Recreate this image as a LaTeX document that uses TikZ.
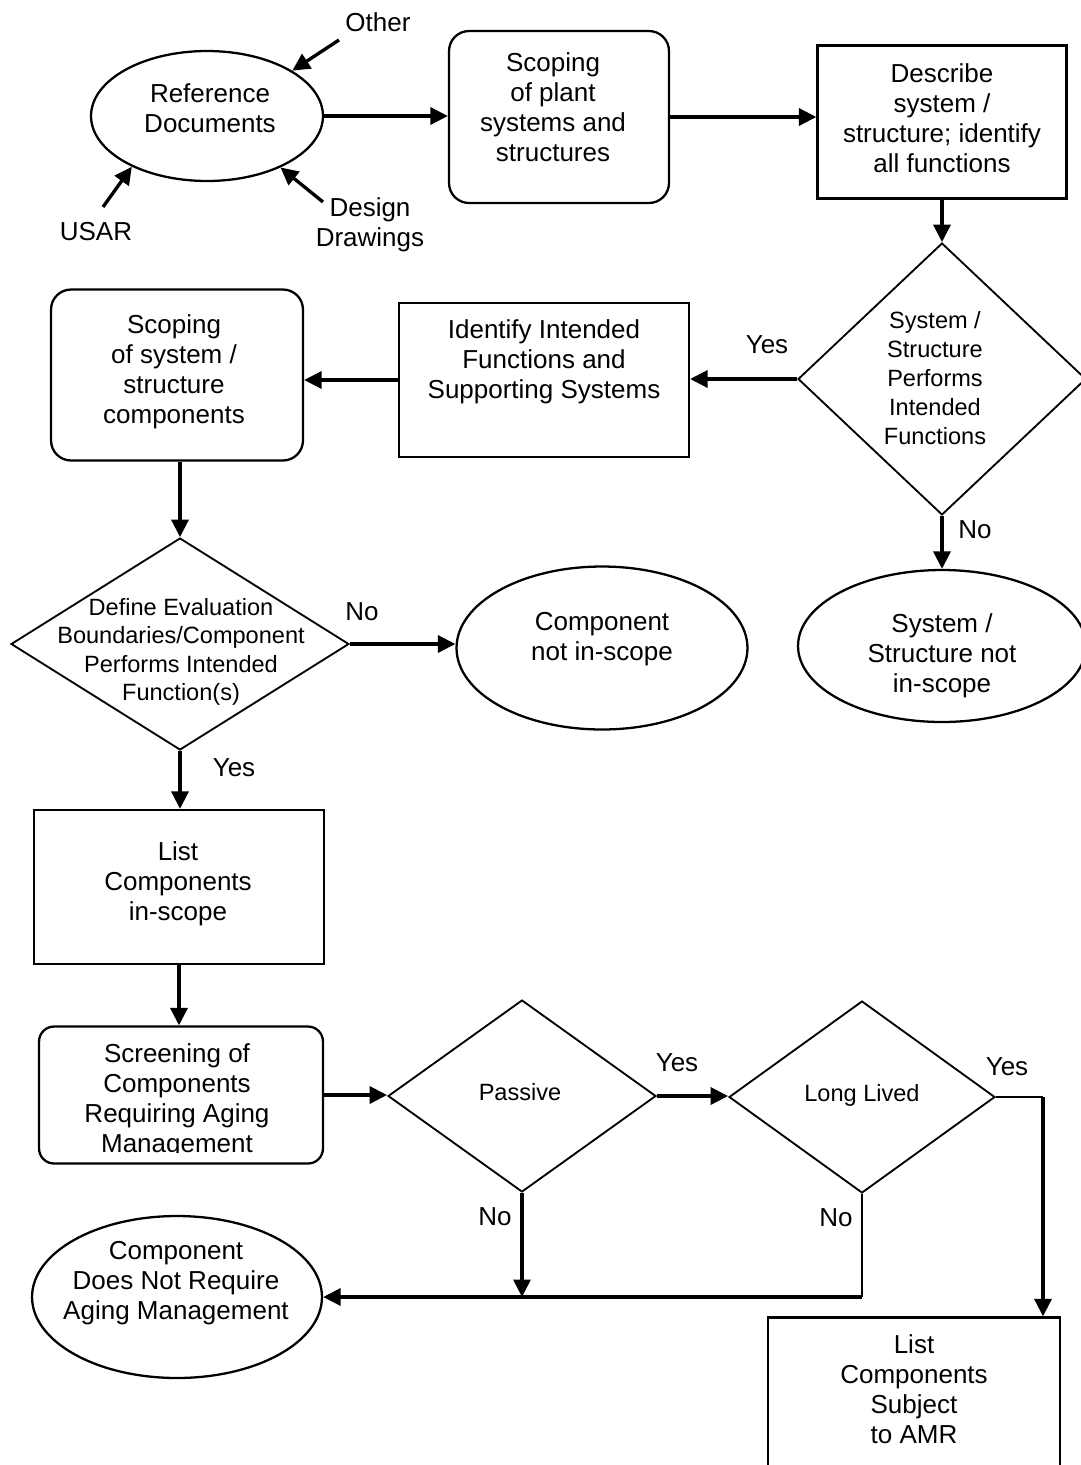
\documentclass[tikz,border=0pt]{standalone}
\usepackage{fontspec}
\setmainfont{Liberation Sans}
\usetikzlibrary{arrows.meta}
\usetikzlibrary{shapes.geometric}

\begin{document}
\begin{tikzpicture}[x=0.02cm, y=-0.02cm]

	\useasboundingbox (0,0) rectangle (1080,1465);

	\tikzstyle{every node}=[draw, line width=1.3pt, inner sep=0pt]
	\tikzstyle{oval}=[ellipse]
	\tikzstyle{rbox}=[rectangle, rounded corners=0.4cm]
	\tikzstyle{choice}=[diamond, line width=1.05pt]
	\tikzstyle{flow}=[line width=1.9pt, -{Triangle[length=0.35cm, width=0.34cm]}]
	\tikzstyle{thinline}=[line width=0.6pt]

	% shapes
	\node[oval, minimum width=4.64cm, minimum height=2.6cm] (refdoc) at (207,116) {};
	\node[rbox, minimum width=4.4cm, minimum height=3.44cm] (scopeplant) at (559,117) {};
	\node[minimum width=4.98cm, minimum height=3.06cm] (describe) at (942,122) {};
	\node[choice, minimum width=5.76cm, minimum height=5.44cm] (sysask) at (942,379) {};
	\node[oval, minimum width=5.76cm, minimum height=3.04cm] (sysout) at (942,646) {};
	\node[minimum width=5.8cm, minimum height=3.08cm] (identify) at (544,380) {};
	\node[rbox, minimum width=5.04cm, minimum height=3.42cm] (scopesys) at (177,375) {};
	\node[choice, minimum width=6.76cm, minimum height=4.24cm] (compask) at (180,644) {};
	\node[oval, minimum width=5.82cm, minimum height=3.26cm] (compout) at (602,648) {};
	\node[minimum width=5.8cm, minimum height=3.08cm] (listin) at (179,887) {};
	\node[rbox, rounded corners=0.3cm, minimum width=5.68cm, minimum height=2.74cm] (screen) at (181,1095) {};
	\node[choice, minimum width=5.36cm, minimum height=3.84cm] (passive) at (522,1096) {};
	\node[choice, minimum width=5.32cm, minimum height=3.84cm] (longlived) at (862,1097) {};
	\node[oval, minimum width=5.8cm, minimum height=3.24cm] (noamr) at (177,1297) {};
	\node[minimum width=5.84cm, minimum height=3.3cm] (listamr) at (914,1400) {};

	\tikzstyle{every node}=[align=center, inner sep=0pt, font=\fontsize{14.8}{17.1}\selectfont]
	\tikzstyle{asktext}=[font=\fontsize{13.4}{16.6}\selectfont]

	% texts
	\node (other) at (378,22) {Other};
	\node (usar) at (96,232) {USAR};
	\node (design) at (370,225) {Design\\Drawings};
	\node (refdoctxt) at (210,108) {Reference\\Documents};
	\node (scopeplanttxt) at (553,107) {Scoping\\of plant\\systems and\\structures};
	\node (describetxt) at (942,118) {Describe\\system /\\structure; identify\\all functions};
	\node[asktext] (sysasktxt) at (935,378) {System /\\Structure\\Performs\\Intended\\Functions};
	\node (identifytxt) at (544,362) {Identify Intended\\Functions and\\Supporting Systems};
	\node (scopesystxt) at (174,372) {Scoping\\of system /\\structure\\components};
	\node (sysouttxt) at (942,656) {System /\\Structure not\\in-scope};
	\node[asktext, font=\fontsize{13.4}{16.1}\selectfont] (compasktxt) at (181,652) {Define Evaluation\\Boundaries/Component\\Performs Intended\\Function(s)};
	\node (compouttxt) at (602,639) {Component\\not in-scope};
	\node (listintxt) at (178,884) {List\\Components\\in-scope};
	\begin{scope}
		\clip (0,1000) rectangle (400,1152);
		\node (screentxt) at (177,1101) {Screening of\\Components\\Requiring Aging\\Management};
	\end{scope}
	\node[asktext] (passivetxt) at (520,1092) {Passive};
	\node[asktext] (longlivedtxt) at (862,1095) {Long Lived};
	\node (noamrtxt) at (176,1283) {Component\\Does Not Require\\Aging Management};
	\node (listamrtxt) at (914,1389) {List\\Components\\Subject\\to AMR};

	% answers
	\node (yes1) at (767,345) {Yes};
	\node (no1) at (975,530) {No};
	\node (no2) at (362,612) {No};
	\node (yes2) at (234,768) {Yes};
	\node (yes3) at (677,1063) {Yes};
	\node (yes4) at (1007,1067) {Yes};
	\node (no3) at (495,1217) {No};
	\node (no4) at (836,1218) {No};

	% inputs
	\coordinate (othertail) at (339,40);
	\coordinate (usartail) at (103,207);
	\coordinate (designtail) at (323,202);
	\draw[flow] (othertail) -- (refdoc.28);
	\draw[flow] (usartail) -- (refdoc.214);
	\draw[flow] (designtail) -- (refdoc.325);

	% flow
	\draw[flow] (refdoc.east) -- (refdoc.east -| scopeplant.west);
	\draw[flow] (scopeplant.east) -- (scopeplant.east -| describe.west);
	\draw[flow] (describe.south) -- (sysask.north);
	\draw[flow] (sysask.west) -- (sysask.west -| identify.east);
	\draw[flow] (identify.west) -- (identify.west -| scopesys.east);
	\draw[flow] (sysask.south) -- (sysout.north);
	\draw[flow] (compask.north |- scopesys.south) -- (compask.north);
	\draw[flow] (compask.east) -- (compask.east -| compout.west);
	\draw[flow] (compask.south) -- (compask.south |- listin.north);
	\draw[flow] (listin.south) -- (listin.south |- screen.north);
	\draw[flow] (screen.east) -- (screen.east -| passive.west);
	\draw[flow] (passive.east) -- (passive.east -| longlived.west);

	\coordinate (yesturn) at (1043,1097);
	\coordinate (noturn) at (longlived.south |- noamr.east);
	\draw[thinline] (longlived.east) -- (yesturn);
	\draw[flow] (yesturn) -- (yesturn |- listamr.north);
	\draw[thinline] (longlived.south) -- (noturn);
	\draw[flow] (noturn) -- (noamr.east);
	\draw[flow] (passive.south) -- (passive.south |- noamr.east);

\end{tikzpicture}
\end{document}
